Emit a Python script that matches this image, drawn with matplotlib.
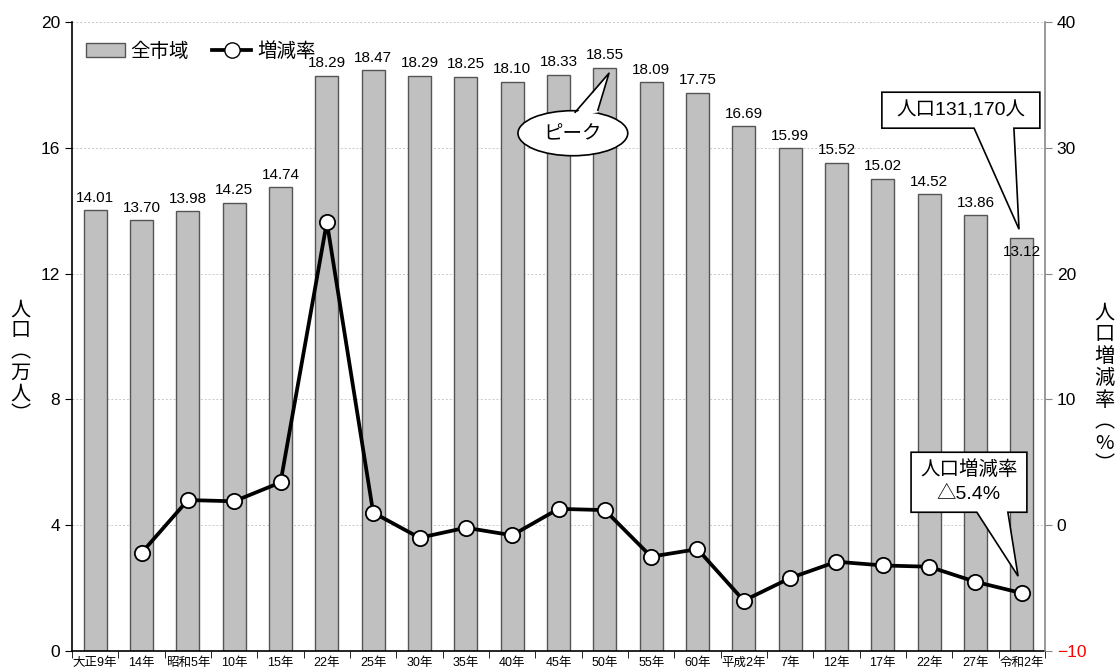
import matplotlib.pyplot as plt
import numpy as np
from matplotlib.patches import Ellipse, Polygon, Rectangle
from matplotlib.lines import Line2D

plt.rcParams['font.family'] = ['Liberation Sans', 'Noto Sans CJK JP']

years = ['大正9年', '14年', '昭和5年', '10年', '15年', '22年', '25年', '30年',
         '35年', '40年', '45年', '50年', '55年', '60年', '平成2年', '7年',
         '12年', '17年', '22年', '27年', '令和2年']
population = [14.01, 13.70, 13.98, 14.25, 14.74, 18.29, 18.47, 18.29, 18.25,
              18.10, 18.33, 18.55, 18.09, 17.75, 16.69, 15.99, 15.52, 15.02,
              14.52, 13.86, 13.12]
growth = [np.nan, -2.2, 2.0, 1.9, 3.4, 24.1, 1.0, -1.0, -0.2, -0.8, 1.3, 1.2,
          -2.5, -1.9, -6.0, -4.2, -2.9, -3.2, -3.3, -4.5, -5.4]

x = np.arange(len(years))

fig = plt.figure(figsize=(11.17, 6.71), dpi=100)
ax = fig.add_axes([0.0645, 0.0298, 0.871, 0.9374])
ax2 = ax.twinx()

# bars: population (10k people)
ax.bar(x, population, width=0.5, color='#c0c0c0', edgecolor='#555555',
       linewidth=1.0, zorder=2)
for i, v in enumerate(population):
    if i == len(population) - 1:
        ax.annotate(f'{v:.2f}', (i, v), xytext=(0, -5), textcoords='offset points',
                    ha='center', va='top', fontsize=11)
    else:
        ax.annotate(f'{v:.2f}', (i, v), xytext=(0, 4), textcoords='offset points',
                    ha='center', va='bottom', fontsize=11)

ax.set_xlim(-0.5, len(years) - 0.5)
ax.set_ylim(0, 20)
ax.set_yticks([0, 4, 8, 12, 16, 20])
ax.yaxis.grid(True, linestyle=(0, (2, 2)), color='#c8c8c8', linewidth=0.7, zorder=0)
ax.set_axisbelow(True)
ax.tick_params(axis='y', labelsize=12.5, length=5, direction='out')

ax.set_xticks(x)
ax.set_xticklabels(years, fontsize=9)
ax.set_xticks(np.arange(-0.5, len(years)), minor=True)
ax.tick_params(axis='x', which='major', length=0, pad=4)
ax.tick_params(axis='x', which='minor', length=5, direction='out')

ax.spines['top'].set_visible(False)
ax2.spines['top'].set_visible(False)
ax.spines['right'].set_visible(False)
ax2.spines['left'].set_visible(False)
ax2.spines['bottom'].set_visible(False)
ax2.spines['right'].set_color('#888888')
ax.spines['left'].set_linewidth(1.2)
ax.spines['bottom'].set_linewidth(1.2)
ax2.spines['right'].set_linewidth(1.2)

# line: growth rate (%)
ax2.plot(x, growth, '-o', color='black', linewidth=2.7, markersize=11,
         markerfacecolor='white', markeredgecolor='black', markeredgewidth=1.3,
         zorder=5)
ax2.set_ylim(-10, 40)
ax2.set_yticks([-10, 0, 10, 20, 30, 40])
ax2.tick_params(axis='y', labelsize=12.5, length=5, direction='out', color='#888888')
ax2.get_yticklabels()[0].set_color('red')

# vertical axis titles
fig.text(0.018, 0.46, '人\n口\n︵\n万\n人\n︶', fontsize=14.5, ha='center', va='center',
         linespacing=1.0, family=['Noto Sans CJK JP'])
fig.text(0.989, 0.42, '人\n口\n増\n減\n率\n︵\n%\n︶', fontsize=14.5,
         ha='center', va='center', linespacing=1.05, family=['Noto Sans CJK JP'])

# legend
leg_handles = [Rectangle((0, 0), 1, 1, facecolor='#c0c0c0', edgecolor='#555555'),
               Line2D([], [], color='black', linewidth=2.7, marker='o', markersize=11,
                      markerfacecolor='white', markeredgecolor='black')]
ax.legend(leg_handles, ['全市域', '増減率'], loc='upper left', ncol=2, frameon=False,
          fontsize=14, handlelength=2.0, handletextpad=0.3, columnspacing=1.2,
          bbox_to_anchor=(0.0, 0.99), borderaxespad=0.3)

# callout: peak
ax2.add_patch(Ellipse((10.31, 31.16), 2.37, 3.58, facecolor='white',
                      edgecolor='black', linewidth=1.2, zorder=6))
ax2.add_patch(Polygon([(10.36, 32.6), (10.85, 32.8), (11.09, 35.93)], closed=True,
                      facecolor='white', edgecolor='none', zorder=7))
ax2.plot([10.36, 11.09, 10.85], [32.83, 35.93, 32.99], color='black', linewidth=1.2,
         zorder=8)
ax2.text(10.31, 31.0, 'ピーク', fontsize=14, ha='center', va='center', zorder=9)

# rectangular callouts with a pointer
def callout(x0, x1, y0, y1, b0, b1, tx, ty):
    pts = [(x0, y0), (x1, y0), (x1, y1), (b1, y1), (tx, ty), (b0, y1), (x0, y1)]
    ax2.add_patch(Polygon(pts, closed=True, facecolor='white', edgecolor='black',
                          linewidth=1.2, zorder=6))

callout(16.98, 20.39, 34.42, 31.56, 18.97, 19.83, 19.94, 23.53)
ax2.text(18.68, 33.0, '人口131,170人', fontsize=14, ha='center', va='center', zorder=9)

callout(17.61, 20.11, 5.80, 1.03, 19.03, 19.70, 19.92, -4.05)
ax2.text(18.86, 3.45, '人口増減率\n△5.4%', fontsize=14, ha='center', va='center',
         linespacing=1.5, zorder=9)

fig.savefig('out.png', dpi=100)
